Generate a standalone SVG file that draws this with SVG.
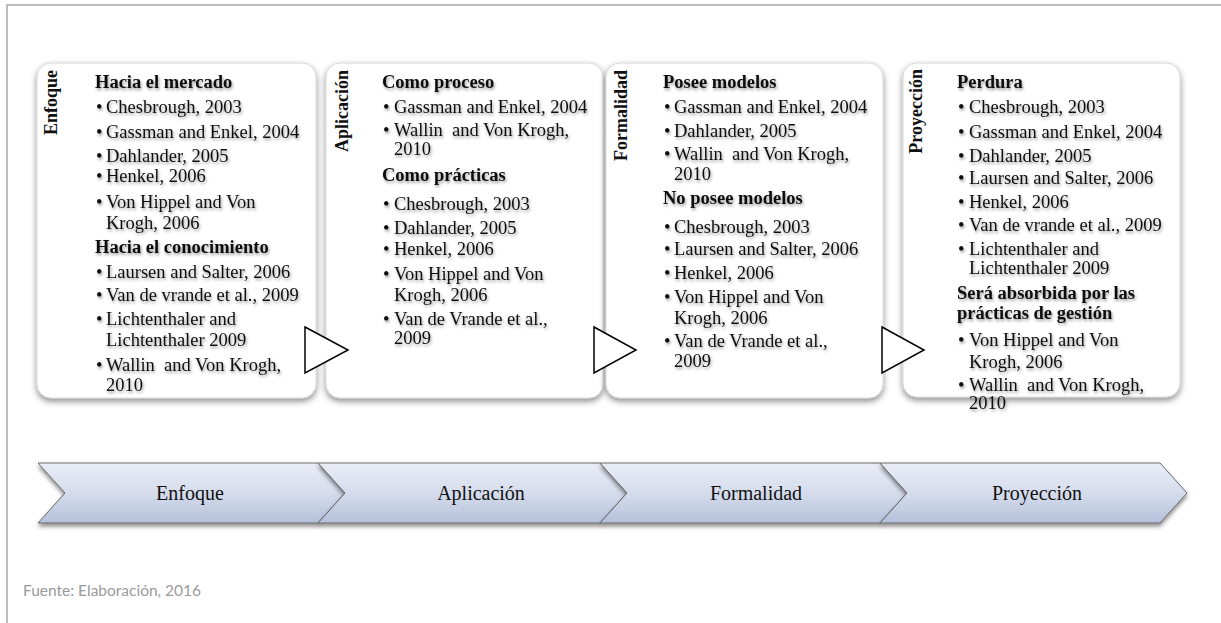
<svg xmlns="http://www.w3.org/2000/svg" width="1221" height="623" viewBox="0 0 1221 623">
  <defs>
    <filter id="boxShadow" x="-10%" y="-10%" width="120%" height="120%">
      <feDropShadow dx="0" dy="3" stdDeviation="3" flood-color="#000" flood-opacity="0.45"/>
    </filter>
    <filter id="textShadow" x="-5%" y="-5%" width="110%" height="110%">
      <feDropShadow dx="1" dy="2" stdDeviation="1.6" flood-color="#000" flood-opacity="0.4"/>
    </filter>
    <filter id="barShadow" x="-5%" y="-20%" width="110%" height="150%">
      <feDropShadow dx="0" dy="3" stdDeviation="2" flood-color="#000" flood-opacity="0.45"/>
    </filter>
    <linearGradient id="barFill" x1="0" y1="0" x2="0" y2="1">
      <stop offset="0" stop-color="#eaedf6"/>
      <stop offset="0.5" stop-color="#d5dcec"/>
      <stop offset="1" stop-color="#b5c1db"/>
    </linearGradient>
  </defs>
  <style>
    .frame { fill: none; stroke: #a8a8a8; stroke-width: 1.5; }
    .card { fill: #ffffff; stroke: #d6d6d6; stroke-width: 1; filter: url(#boxShadow); }
    .arrow { fill: #ffffff; stroke: #000000; stroke-width: 1.5; stroke-linejoin: miter; }
    .txt { font-family: "Liberation Serif", "Times New Roman", serif; font-size: 18.5px; fill: #111; filter: url(#textShadow); }
    .hd { font-weight: bold; }
    .side { font-family: "Liberation Serif", "Times New Roman", serif; font-size: 18px; font-weight: bold; fill: #111; text-anchor: end; }
    .seg { fill: url(#barFill); stroke: #6a6a6a; stroke-width: 1; filter: url(#barShadow); }
    .segLabel { font-family: "Liberation Serif", "Times New Roman", serif; font-size: 20px; fill: #111; text-anchor: middle; }
    .source { font-family: Lato, "Open Sans", sans-serif; font-size: 15.5px; fill: #9a9a9a; }
  </style>

  <!-- page frame -->
  <path class="frame" d="M7,623 L7,5 L1221,5"/>

  <!-- card 1 -->
  <g id="card-enfoque">
    <rect class="card" x="37" y="63" width="279" height="335" rx="14"/>
    <text class="side" transform="translate(57,70) rotate(-90)">Enfoque</text>
    <g class="txt">
      <text class="hd" x="95" y="88">Hacia el mercado</text>
      <text y="113"><tspan x="96">•</tspan><tspan x="106">Chesbrough, 2003</tspan></text>
      <text y="138"><tspan x="96">•</tspan><tspan x="106">Gassman and Enkel, 2004</tspan></text>
      <text y="162"><tspan x="96">•</tspan><tspan x="106">Dahlander, 2005</tspan></text>
      <text y="182"><tspan x="96">•</tspan><tspan x="106">Henkel, 2006</tspan></text>
      <text y="208"><tspan x="96">•</tspan><tspan x="106">Von Hippel and Von</tspan></text>
      <text x="106" y="229">Krogh, 2006</text>
      <text class="hd" x="95" y="253">Hacia el conocimiento</text>
      <text y="278"><tspan x="96">•</tspan><tspan x="106">Laursen and Salter, 2006</tspan></text>
      <text y="301"><tspan x="96">•</tspan><tspan x="106">Van de vrande et al., 2009</tspan></text>
      <text y="325"><tspan x="96">•</tspan><tspan x="106">Lichtenthaler and</tspan></text>
      <text x="106" y="346">Lichtenthaler 2009</text>
      <text y="371"><tspan x="96">•</tspan><tspan x="106">Wallin&#160; and Von Krogh,</tspan></text>
      <text x="106" y="391">2010</text>
    </g>
  </g>

  <!-- card 2 -->
  <g id="card-aplicacion">
    <rect class="card" x="326" y="63" width="277" height="335" rx="14"/>
    <text class="side" transform="translate(348,70) rotate(-90)">Aplicación</text>
    <g class="txt">
      <text class="hd" x="382" y="88">Como proceso</text>
      <text y="113"><tspan x="383">•</tspan><tspan x="394">Gassman and Enkel, 2004</tspan></text>
      <text y="136"><tspan x="383">•</tspan><tspan x="394">Wallin&#160; and Von Krogh,</tspan></text>
      <text x="394" y="155">2010</text>
      <text class="hd" x="382" y="181">Como prácticas</text>
      <text y="210"><tspan x="383">•</tspan><tspan x="394">Chesbrough, 2003</tspan></text>
      <text y="234"><tspan x="383">•</tspan><tspan x="394">Dahlander, 2005</tspan></text>
      <text y="255"><tspan x="383">•</tspan><tspan x="394">Henkel, 2006</tspan></text>
      <text y="280"><tspan x="383">•</tspan><tspan x="394">Von Hippel and Von</tspan></text>
      <text x="394" y="301">Krogh, 2006</text>
      <text y="325"><tspan x="383">•</tspan><tspan x="394">Van de Vrande et al.,</tspan></text>
      <text x="394" y="344">2009</text>
    </g>
  </g>

  <!-- card 3 -->
  <g id="card-formalidad">
    <rect class="card" x="606" y="63" width="277" height="335" rx="14"/>
    <text class="side" transform="translate(627,70) rotate(-90)">Formalidad</text>
    <g class="txt">
      <text class="hd" x="663" y="88">Posee modelos</text>
      <text y="113"><tspan x="664">•</tspan><tspan x="674">Gassman and Enkel, 2004</tspan></text>
      <text y="137"><tspan x="664">•</tspan><tspan x="674">Dahlander, 2005</tspan></text>
      <text y="160"><tspan x="664">•</tspan><tspan x="674">Wallin&#160; and Von Krogh,</tspan></text>
      <text x="674" y="180">2010</text>
      <text class="hd" x="663" y="204">No posee modelos</text>
      <text y="233"><tspan x="664">•</tspan><tspan x="674">Chesbrough, 2003</tspan></text>
      <text y="255"><tspan x="664">•</tspan><tspan x="674">Laursen and Salter, 2006</tspan></text>
      <text y="279"><tspan x="664">•</tspan><tspan x="674">Henkel, 2006</tspan></text>
      <text y="303"><tspan x="664">•</tspan><tspan x="674">Von Hippel and Von</tspan></text>
      <text x="674" y="324">Krogh, 2006</text>
      <text y="347"><tspan x="664">•</tspan><tspan x="674">Van de Vrande et al.,</tspan></text>
      <text x="674" y="367">2009</text>
    </g>
  </g>

  <!-- card 4 -->
  <g id="card-proyeccion">
    <rect class="card" x="903" y="63" width="277" height="334" rx="14"/>
    <text class="side" transform="translate(922,69) rotate(-90)">Proyección</text>
    <g class="txt">
      <text class="hd" x="957" y="88">Perdura</text>
      <text y="113"><tspan x="958">•</tspan><tspan x="969">Chesbrough, 2003</tspan></text>
      <text y="138"><tspan x="958">•</tspan><tspan x="969">Gassman and Enkel, 2004</tspan></text>
      <text y="162"><tspan x="958">•</tspan><tspan x="969">Dahlander, 2005</tspan></text>
      <text y="184"><tspan x="958">•</tspan><tspan x="969">Laursen and Salter, 2006</tspan></text>
      <text y="208"><tspan x="958">•</tspan><tspan x="969">Henkel, 2006</tspan></text>
      <text y="231"><tspan x="958">•</tspan><tspan x="969">Van de vrande et al., 2009</tspan></text>
      <text y="255"><tspan x="958">•</tspan><tspan x="969">Lichtenthaler and</tspan></text>
      <text x="969" y="274">Lichtenthaler 2009</text>
      <text class="hd" x="957" y="299">Será absorbida por las</text>
      <text class="hd" x="957" y="319">prácticas de gestión</text>
      <text y="346"><tspan x="958">•</tspan><tspan x="969">Von Hippel and Von</tspan></text>
      <text x="969" y="368">Krogh, 2006</text>
      <text y="391"><tspan x="958">•</tspan><tspan x="969">Wallin&#160; and Von Krogh,</tspan></text>
      <text x="969" y="409">2010</text>
    </g>
  </g>

  <!-- connectors: outlined triangles between cards -->
  <g id="connectors">
    <polygon class="arrow" points="305,327 348,350 305,373"/>
    <polygon class="arrow" points="594,327 636,350 594,373"/>
    <polygon class="arrow" points="882,327 924,350 882,373"/>
  </g>

  <!-- chevron process bar -->
  <g id="bar-enfoque">
    <path class="seg" d="M38,463 L318,463 L345,493 L318,523 L38,523 L65,493 Z"/>
    <text class="segLabel" x="190" y="500">Enfoque</text>
  </g>
  <g id="bar-aplicacion">
    <path class="seg" d="M318,463 L600,463 L627,493 L600,523 L318,523 L345,493 Z"/>
    <text class="segLabel" x="481" y="500">Aplicación</text>
  </g>
  <g id="bar-formalidad">
    <path class="seg" d="M600,463 L880,463 L907,493 L880,523 L600,523 L627,493 Z"/>
    <text class="segLabel" x="756" y="500">Formalidad</text>
  </g>
  <g id="bar-proyeccion">
    <path class="seg" d="M880,463 L1160,463 L1187,493 L1160,523 L880,523 L907,493 Z"/>
    <text class="segLabel" x="1037" y="500">Proyección</text>
  </g>

  <text class="source" x="23" y="596">Fuente: Elaboración, 2016</text>
</svg>
